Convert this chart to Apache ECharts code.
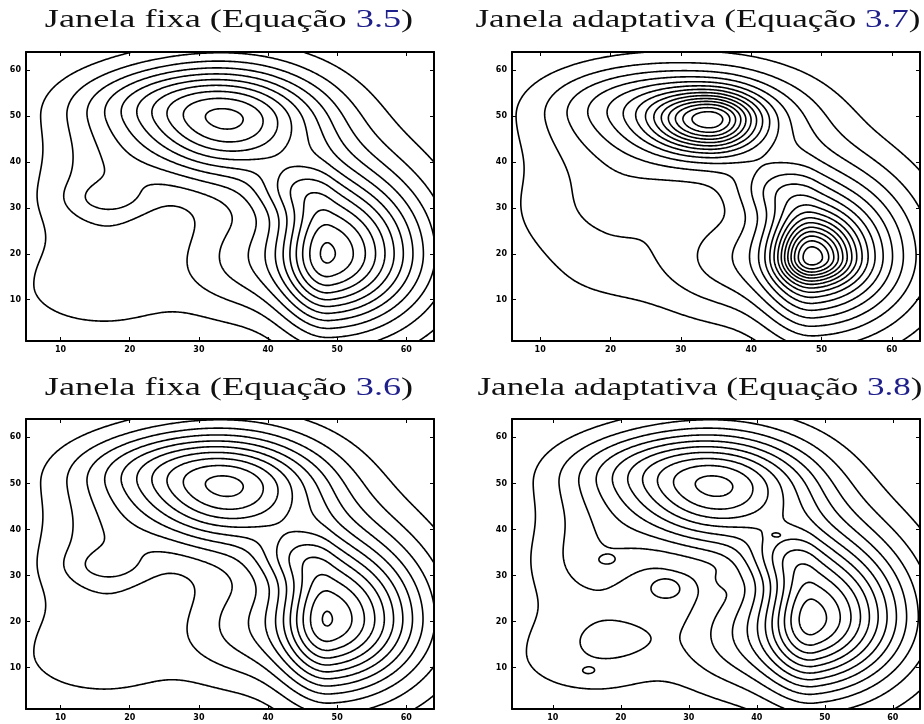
<!DOCTYPE html>
<html>
<head>
<meta charset="utf-8">
<script src="https://cdn.jsdelivr.net/npm/echarts@6.0.0/dist/echarts.min.js"></script>
<style>
html,body{margin:0;padding:0;background:#ffffff;}
#chart{width:924px;height:724px;}
</style>
</head>
<body>
<div id="chart"></div>
<script>
// ---------------- data ----------------
const tickValues = [10, 20, 30, 40, 50, 60];
const titleText = ['Janela fixa (Equação ', 'Janela adaptativa (Equação ', 'Janela fixa (Equação ', 'Janela adaptativa (Equação '];
const titleRef = ['3.5', '3.7', '3.6', '3.8'];
const xMinList = [5, 6, 5, 4];
const xMaxList = [64, 64, 64, 64];
const yMinList = [1, 1, 1, 1];
const yMaxList = [64, 64, 64, 64];

// estimated kernel components (centre x, centre y, spread left/right/down/up, weight)
const p1CX  = [34.5, 16, 24, 49, 37, 43, 16, 17, 16];
const p1CY  = [49, 50, 55, 20, 19, 34, 33, 32, 13];
const p1SXL = [10, 7, 8, 5, 7, 4, 7, 4, 9];
const p1SXR = [9.5, 7, 8, 9.3, 7, 4, 5.5, 4, 8];
const p1SYD = [9.5, 8, 5, 11, 9, 4, 7, 2.5, 7];
const p1SYU = [8.1, 6, 5, 13, 9, 4, 7, 2.5, 9];
const p1W   = [9.9, 1.4, 1.5, 11.4, 3.2, 2.3, 1.9, 1, 1.8];
const p1Levels = [1, 2, 3, 4, 5, 6, 7, 8, 9, 10, 11, 12];

const p2CX  = [34.2, 34.2, 16, 24, 49, 48.7, 37, 43, 19, 20];
const p2CY  = [49.2, 49.2, 50, 55, 19.5, 19.1, 19, 34, 30, 15];
const p2SXL = [12, 5.5, 7, 8, 5, 3.2, 7, 4, 10, 9];
const p2SXR = [9.5, 4.5, 7, 8, 9.3, 3.8, 7, 4, 7, 8];
const p2SYD = [9.5, 4.4, 8, 5, 11, 3.5, 9, 4, 8, 7];
const p2SYU = [7.5, 4.0, 6, 5, 13, 5.5, 9, 4, 8, 8];
const p2W   = [6.2, 8.2, 1.1, 1.5, 10, 7, 3.2, 2.3, 1.7, 0.9];
const p2Levels = [1, 2, 3, 4, 5, 6, 7, 8, 9, 10, 11, 12, 13, 14, 15, 16, 17, 18];

const p3CX  = [34.5, 16, 24, 49, 37, 43, 16, 17, 16];
const p3CY  = [49, 50, 55, 20.5, 19, 34, 33, 32, 13];
const p3SXL = [10, 7, 8, 5, 7, 4, 7, 4, 9];
const p3SXR = [9.5, 7, 8, 9.3, 7, 4, 5.5, 4, 8];
const p3SYD = [9.5, 8, 5, 11, 9, 4, 7, 2.5, 7];
const p3SYU = [8.1, 6, 5, 13, 9, 4, 7, 2.5, 9];
const p3W   = [9.9, 1.4, 1.5, 11.3, 3.2, 2.3, 1.9, 1, 1.8];
const p3Levels = [1, 2, 3, 4, 5, 6, 7, 8, 9, 10, 11, 12];

const p4CX  = [34.5, 16, 24, 48.5, 38, 43, 16, 16, 18, 26.3, 20.3, 15.2, 42.7, 35];
const p4CY  = [49, 50, 55, 21, 17, 34, 33, 13, 33.3, 26.8, 16.6, 9.2, 38.9, 29];
const p4SXL = [10, 7, 8, 5, 7, 4, 7, 9, 1, 1.8, 4, 1, 0.7, 1.5];
const p4SXR = [9.5, 7, 8, 9.3, 7, 4, 5.5, 8, 1, 1.8, 4, 1, 0.7, 1.5];
const p4SYD = [9.5, 8, 5, 11, 9, 4, 7, 7, 0.8, 1.8, 3, 0.8, 0.5, 1.5];
const p4SYU = [8.1, 6, 5, 13, 9, 4, 7, 9, 0.8, 1.8, 3, 0.8, 0.5, 1.5];
const p4W   = [9.9, 1.4, 1.5, 11.5, 3.4, 2.3, 1.9, 1.8, 0.6, 1.0, 0.8, 0.6, 0.9, 0.6];
const p4Levels = [1, 2, 3, 4, 5, 6, 7, 8, 9, 10, 11, 12];

// ---------------- computation ----------------
function makeComp(cx, cy, sxl, sxr, syd, syu, w) {
  return cx.map((_, i) => ({x: cx[i], y: cy[i], sxl: sxl[i], sxr: sxr[i], syd: syd[i], syu: syu[i], w: w[i]}));
}
function dens(comp, x, y) {
  let s = 0;
  for (const c of comp) {
    const dx = x - c.x, dy = y - c.y;
    const u = dx / (dx < 0 ? c.sxl : c.sxr), v = dy / (dy < 0 ? c.syd : c.syu);
    s += c.w * Math.exp(-0.5 * (u * u + v * v));
  }
  return s;
}
function buildContours(comp, levels, x0, x1, y0, y1) {
  const step = 0.2;
  const nx = Math.round((x1 - x0) / step) + 1, ny = Math.round((y1 - y0) / step) + 1;
  const gx = (x1 - x0) / (nx - 1), gy = (y1 - y0) / (ny - 1);
  const val = new Float64Array(nx * ny);
  for (let j = 0; j < ny; j++) for (let i = 0; i < nx; i++) val[j * nx + i] = dens(comp, x0 + i * gx, y0 + j * gy);
  const out = [];
  for (const L of levels) {
    const pts = new Map(), adj = new Map(), segs = [];
    const H = (i, j) => { const k = 'h' + i + '_' + j; if (!pts.has(k)) { const a = val[j*nx+i], b = val[j*nx+i+1]; const t = (L - a) / (b - a); pts.set(k, [x0 + (i + t) * gx, y0 + j * gy]); } return k; };
    const V = (i, j) => { const k = 'v' + i + '_' + j; if (!pts.has(k)) { const a = val[j*nx+i], b = val[(j+1)*nx+i]; const t = (L - a) / (b - a); pts.set(k, [x0 + i * gx, y0 + (j + t) * gy]); } return k; };
    const add = (k1, k2) => { const id = segs.length; segs.push([k1, k2]); if (!adj.has(k1)) adj.set(k1, []); if (!adj.has(k2)) adj.set(k2, []); adj.get(k1).push(id); adj.get(k2).push(id); };
    for (let j = 0; j < ny - 1; j++) for (let i = 0; i < nx - 1; i++) {
      const a = val[j*nx+i] >= L, b = val[j*nx+i+1] >= L, c = val[(j+1)*nx+i+1] >= L, d = val[(j+1)*nx+i] >= L;
      const eb = a !== b, er = b !== c, et = d !== c, el = a !== d;
      const n = eb + er + et + el;
      if (n === 0) continue;
      if (n === 2) {
        const ks = [];
        if (eb) ks.push(H(i, j)); if (er) ks.push(V(i + 1, j)); if (et) ks.push(H(i, j + 1)); if (el) ks.push(V(i, j));
        add(ks[0], ks[1]);
      } else if (n === 4) {
        const cen = (val[j*nx+i] + val[j*nx+i+1] + val[(j+1)*nx+i+1] + val[(j+1)*nx+i]) / 4 >= L;
        if (cen === a) { add(H(i, j), V(i + 1, j)); add(H(i, j + 1), V(i, j)); }
        else { add(H(i, j), V(i, j)); add(V(i + 1, j), H(i, j + 1)); }
      }
    }
    const used = new Uint8Array(segs.length);
    const follow = (key) => { const res = []; let k = key; for (;;) { const list = adj.get(k); let nxt = -1; for (const s of list) if (!used[s]) { nxt = s; break; } if (nxt < 0) break; used[nxt] = 1; const sg = segs[nxt]; k = sg[0] === k ? sg[1] : sg[0]; res.push(pts.get(k)); } return res; };
    for (let s = 0; s < segs.length; s++) {
      if (used[s]) continue; used[s] = 1;
      const fwd = follow(segs[s][1]);
      const bwd = follow(segs[s][0]);
      const chain = bwd.reverse().concat([pts.get(segs[s][0]), pts.get(segs[s][1])], fwd);
      if (chain.length > 2) out.push(chain);
    }
  }
  return out;
}

const panels = [
  {comp: makeComp(p1CX, p1CY, p1SXL, p1SXR, p1SYD, p1SYU, p1W), levels: p1Levels},
  {comp: makeComp(p2CX, p2CY, p2SXL, p2SXR, p2SYD, p2SYU, p2W), levels: p2Levels},
  {comp: makeComp(p3CX, p3CY, p3SXL, p3SXR, p3SYD, p3SYU, p3W), levels: p3Levels},
  {comp: makeComp(p4CX, p4CY, p4SXL, p4SXR, p4SYD, p4SYU, p4W), levels: p4Levels}
];

// ---------------- layout ----------------
const gridBox = [
  {left: 26, top: 52, width: 408, height: 289},
  {left: 512, top: 52, width: 408, height: 289},
  {left: 26, top: 419, width: 408, height: 290},
  {left: 512, top: 419, width: 408, height: 290}
];
const titlePos = [[229, 20], [698, 20], [229, 388], [700, 388]];
const titleScale = [1.45, 1.40, 1.45, 1.40];

const tickFont = {fontFamily: 'DejaVu Sans', fontWeight: 'bold', fontSize: 8, color: '#000'};
const xAxes = [], yAxes = [], series = [];
gridBox.forEach((g, k) => {
  const common = (min, max) => ({type: 'value', gridIndex: k, min: min, max: max, splitLine: {show: false},
    axisLine: {show: true, onZero: false, lineStyle: {color: '#000', width: 2}},
    axisTick: {show: true, inside: true, length: 4, customValues: tickValues, lineStyle: {color: '#000', width: 1}}});
  xAxes.push(Object.assign(common(xMinList[k], xMaxList[k]), {position: 'bottom', axisLabel: Object.assign({customValues: tickValues, margin: 5}, tickFont)}));
  xAxes.push(Object.assign(common(xMinList[k], xMaxList[k]), {position: 'top', axisLabel: {show: false}}));
  yAxes.push(Object.assign(common(yMinList[k], yMaxList[k]), {position: 'left', axisLabel: Object.assign({customValues: tickValues, margin: 5}, tickFont)}));
  yAxes.push(Object.assign(common(yMinList[k], yMaxList[k]), {position: 'right', axisLabel: {show: false}}));
  const chains = buildContours(panels[k].comp, panels[k].levels, xMinList[k], xMaxList[k], yMinList[k], yMaxList[k]);
  series.push({type: 'lines', coordinateSystem: 'cartesian2d', xAxisIndex: 2 * k, yAxisIndex: 2 * k, polyline: true,
    silent: true, animation: false, progressive: 0, large: false,
    lineStyle: {color: '#000', width: 1.6, opacity: 1},
    data: chains.map(c => ({coords: c}))});
});

const graphics = titleText.map((t, i) => ({
  type: 'text', x: titlePos[i][0], y: titlePos[i][1], scaleX: titleScale[i], scaleY: 1,
  style: {text: '{a|' + t + '}{b|' + titleRef[i] + '}{a|)}', align: 'center', verticalAlign: 'middle', textAlign: 'center', textVerticalAlign: 'middle',
    rich: {a: {fontFamily: 'Liberation Serif', fontSize: 25, fill: '#111', color: '#111'},
           b: {fontFamily: 'Liberation Serif', fontSize: 25, fill: '#1f1f8c', color: '#1f1f8c'}}}
}));

const chart = echarts.init(document.getElementById('chart'), null, {renderer: 'canvas'});
chart.setOption({
  animation: false,
  backgroundColor: '#ffffff',
  grid: gridBox.map(g => Object.assign({containLabel: false}, g)),
  xAxis: xAxes, yAxis: yAxes, series: series, graphic: graphics
});
</script>
</body>
</html>
